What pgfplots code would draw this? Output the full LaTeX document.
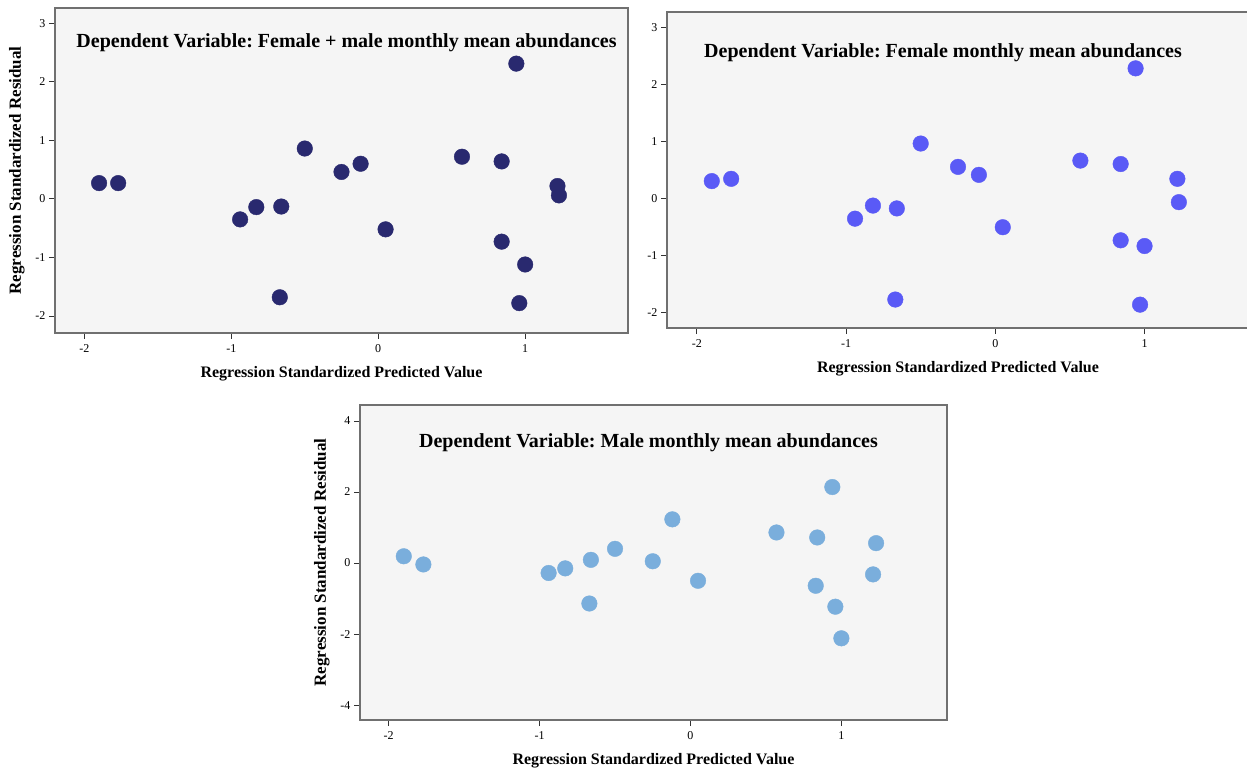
\documentclass[border=0pt]{standalone}
\usepackage{pgfplots}
\pgfplotsset{compat=1.18}
\usepackage{fontspec}
\setmainfont{Liberation Serif}
\frenchspacing

\definecolor{boxfill}{HTML}{F5F5F5}
\definecolor{boxline}{HTML}{707070}
\definecolor{dotA}{HTML}{29296F}
\definecolor{dotB}{HTML}{5A5AF6}
\definecolor{dotC}{HTML}{7AAEDC}

\tikzset{ttl/.style={anchor=north, font=\bfseries\fontsize{20}{22}\selectfont}}

\pgfplotsset{
  resid/.style={
    scale only axis,
    anchor=south west,
    axis background/.style={fill=boxfill},
    axis line style={draw=boxline, line width=1.3pt},
    tick align=outside,
    xtick pos=lower, ytick pos=left,
    major tick length=6pt,
    tick style={draw=black!80, line width=0.9pt},
    ticklabel style={font=\fontsize{12}{13}\selectfont},
    xticklabel style={yshift=-2pt},
    /pgf/number format/assume math mode=true,
    xmin=-2.2, xmax=1.7,
    xtick={-2,-1,0,1},
    xlabel={Regression Standardized Predicted Value},
    xlabel style={font=\bfseries\fontsize{16}{18}\selectfont, yshift=-7pt},
    ylabel style={font=\bfseries\fontsize{17}{19}\selectfont, yshift=4pt},
    clip=false,
  },
  dots/.style={only marks, color=#1, mark=*, mark size=7.8pt, mark options={draw=#1, fill=#1}},
}

\begin{document}
\begin{tikzpicture}
\path[use as bounding box] (0,0) rectangle (1247pt,772pt);

% top left: female + male
\begin{axis}[resid, at={(55pt,439pt)}, width=573pt, height=325pt,
    ymin=-2.29, ymax=3.26, ytick={-2,-1,0,1,2,3},
    ylabel={Regression Standardized Residual}]
\addplot[dots=dotA] coordinates {
(-1.90,0.27) (-1.77,0.27) (-0.94,-0.35) (-0.83,-0.14) (-0.66,-0.13)
(-0.67,-1.68) (-0.50,0.86) (-0.25,0.46) (-0.12,0.60) (0.05,-0.52)
(0.57,0.72) (0.84,0.64) (0.84,-0.73) (0.94,2.31) (0.96,-1.78)
(1.00,-1.12) (1.22,0.22) (1.23,0.06)
};
\node[ttl] at ([xshift=5pt,yshift=-22pt]rel axis cs:0.5,1) {Dependent Variable: Female + male monthly mean abundances};
\end{axis}

% top right: female
\begin{axis}[resid, at={(667pt,444pt)}, width=582pt, height=316pt,
    ymin=-2.28, ymax=3.27, ytick={-2,-1,0,1,2,3}]
\addplot[dots=dotB] coordinates {
(-1.90,0.30) (-1.77,0.34) (-0.94,-0.36) (-0.82,-0.13) (-0.66,-0.18)
(-0.67,-1.78) (-0.50,0.96) (-0.25,0.55) (-0.11,0.41) (0.05,-0.51)
(0.57,0.66) (0.84,0.60) (0.84,-0.74) (0.94,2.28) (0.97,-1.87)
(1.00,-0.84) (1.22,0.34) (1.23,-0.07)
};
\node[ttl] at ([xshift=-15pt,yshift=-28pt]rel axis cs:0.5,1) {Dependent Variable: Female monthly mean abundances};
\end{axis}

% bottom: male
\begin{axis}[resid, at={(360pt,52pt)}, width=587pt, height=315pt,
    ymin=-4.42, ymax=4.45, ytick={-4,-2,0,2,4},
    xmin=-2.19, xmax=1.70,
    ylabel={Regression Standardized Residual}]
\addplot[dots=dotC] coordinates {
(-1.90,0.19) (-1.77,-0.04) (-0.94,-0.28) (-0.83,-0.15) (-0.66,0.09)
(-0.67,-1.14) (-0.50,0.40) (-0.25,0.05) (-0.12,1.23) (0.05,-0.50)
(0.57,0.86) (0.84,0.72) (0.83,-0.64) (0.94,2.14) (0.96,-1.23)
(1.00,-2.12) (1.23,0.56) (1.21,-0.32)
};
\node[ttl] at ([xshift=-5pt,yshift=-25pt]rel axis cs:0.5,1) {Dependent Variable: Male monthly mean abundances};
\end{axis}
\end{tikzpicture}
\end{document}
